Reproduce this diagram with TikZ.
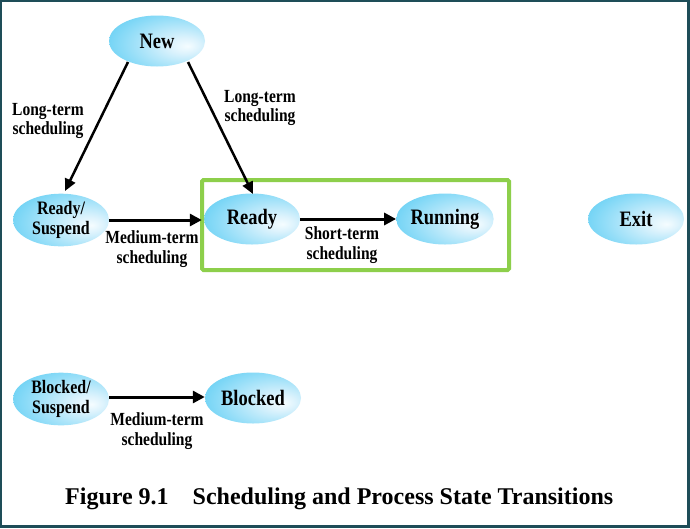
\documentclass[tikz,border=0pt]{standalone}
\usepackage{fontspec}
\setmainfont{Liberation Serif}
\newfontfamily\condfont[FakeStretch=0.84,BoldFont={Liberation Serif Bold}]{Liberation Serif}
\usetikzlibrary{arrows.meta,shapes.geometric}
\definecolor{frameteal}{HTML}{1E4D58}
\definecolor{boxgreen}{HTML}{8DCF4B}
\pgfdeclareradialshading{ellshade}{\pgfpoint{16bp}{-5bp}}{%
  rgb(0bp)=(0.96,0.99,1);
  rgb(8bp)=(0.86,0.95,0.99);
  rgb(28bp)=(0.55,0.86,0.97);
  rgb(50bp)=(0.22,0.76,0.94);
  rgb(75bp)=(0.22,0.76,0.94)}
\tikzset{
  state/.style={ellipse, shading=ellshade, minimum width=96pt, minimum height=51pt,
    inner sep=0pt, align=center, font=\condfont\bfseries\fontsize{22}{20}\selectfont},
  state2/.style={state, font=\condfont\bfseries\fontsize{19}{20}\selectfont},
  lbl/.style={align=center, font=\condfont\bfseries\fontsize{18.5}{19.5}\selectfont, inner sep=0pt},
  arr/.style={line width=3pt, -{Triangle[length=12pt,width=12pt]}},
  darr/.style={line width=2.5pt, -{Triangle[length=12pt,width=11pt]}},
}
\begin{document}
\begin{tikzpicture}[x=1pt,y=-1pt]
\useasboundingbox (0,0) rectangle (690,528);
\fill[frameteal] (0,0) rectangle (690,528);
\fill[white] (2,2) rectangle (687,525);

\node[state] (new) at (157,41) {New};
\node[state2] (rs) at (61,220) {Ready/\\Suspend};
\node[state] (ready) at (252,219) {Ready};
\node[state] (run) at (445,219) {Running};
\node[state] (exit) at (636,219) {Exit};
\node[state2] (bs) at (61,399) {Blocked/\\Suspend};
\node[state] (blk) at (253,398) {Blocked};

\draw[boxgreen, line width=4pt, rounded corners=1.5pt] (202,180) rectangle (509,270);

\coordinate (n1) at (128,62);
\coordinate (n1e) at (65,191);
\coordinate (n2) at (188,62);
\coordinate (n2e) at (253,194);
\draw[darr] (n1) -- (n1e);
\draw[darr] (n2) -- (n2e);
\draw[arr] (rs.east) -- ([xshift=-2pt]rs.east -| ready.west);
\draw[arr] (ready.east) -- (ready.east -| run.west);
\draw[arr] ([yshift=2pt]bs.east) -- ([yshift=2pt]bs.east -| blk.west);

\node[lbl] (l1) at (48,121) {Long-term\\scheduling};
\node[lbl] (l2) at (260,108) {Long-term\\scheduling};
\node[lbl] (l3) at (152,249) {Medium-term\\scheduling};
\node[lbl] (l4) at (342,245) {Short-term\\scheduling};
\node[lbl] (l5) at (157,431) {Medium-term\\scheduling};

\node[font=\bfseries\fontsize{24}{26}\selectfont, anchor=west, inner sep=0pt] (cap) at (65,499)
  {Figure 9.1\hspace{24pt}Scheduling and Process State Transitions};
\end{tikzpicture}
\end{document}
